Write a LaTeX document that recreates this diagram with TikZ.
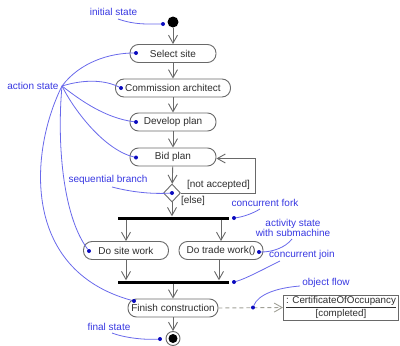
\documentclass[tikz,border=0pt]{standalone}
\usepackage{fontspec}
\setmainfont{Liberation Sans}
\usetikzlibrary{arrows.meta,shapes.geometric,calc}
\definecolor{lbl}{RGB}{55,55,225}
\definecolor{lnk}{RGB}{105,105,235}
\definecolor{dotc}{RGB}{10,10,190}
\definecolor{edgec}{RGB}{105,105,105}
\definecolor{txt}{RGB}{45,45,45}
\definecolor{dashc}{RGB}{160,160,150}
\begin{document}
\begin{tikzpicture}[x=1pt,y=-1pt,
  font=\fontsize{10}{11}\selectfont,
  act/.style={draw=edgec, line width=0.9pt, rounded corners=8.5pt, minimum height=18pt, inner sep=0pt, text=txt},
  flow/.style={draw=edgec, line width=0.9pt, -{Straight Barb[length=8pt,width=9pt]}},
  bar/.style={fill=black, inner sep=0pt, minimum height=3pt, minimum width=111pt},
  note/.style={text=lbl, inner sep=0pt},
  pointer/.style={draw=lnk, line width=0.8pt},
  pin/.style={circle, fill=dotc, inner sep=0pt, minimum size=4pt},
  guard/.style={text=txt, inner sep=0pt}]
\useasboundingbox (0,0) rectangle (400,346);

% activity nodes
\node[circle, fill=black, inner sep=0pt, minimum size=11pt] (init) at (173,22) {};
\node[act, minimum width=86pt] (sel) at (173,53.5) {Select site};
\node[act, minimum width=115pt] (com) at (173,88) {Commission architect};
\node[act, minimum width=86pt] (dev) at (173,122) {Develop plan};
\node[act, minimum width=86pt] (bid) at (173,157) {Bid plan};
\node[diamond, draw=edgec, line width=0.9pt, minimum width=17pt, minimum height=18pt, inner sep=0pt] (dia) at (172,193) {};
\node[bar] (fork) at (173.5,218) {};
\node[act, minimum width=85pt] (site) at (126,250.5) {Do site work};
\node[act, minimum width=84pt] (trade) at (221,250.5) {Do trade work()};
\node[bar] (join) at (173.5,282) {};
\node[act, minimum width=90pt] (finish) at (173,308) {Finish construction};
\node[circle, draw=edgec, line width=0.9pt, inner sep=0pt, minimum size=14pt] (final) at (173,338.5) {};
\node[circle, fill=black, inner sep=0pt, minimum size=9pt] (finalin) at (final) {};
\node[draw=edgec, line width=0.9pt, minimum width=115pt, minimum height=25pt, align=center, text=txt, inner sep=0pt, font=\fontsize{9.8}{10}\selectfont] (obj) at (341,307.5) {\underline{: CertificateOfOccupancy}\\{[completed]}};

% guards
\node[guard] (na) at (218.5,185) {[not accepted]};
\node[guard] (els) at (193,201) {[else]};

% control flow
\draw[flow] (init) -- (sel);
\draw[flow] (sel) -- (com);
\draw[flow] (com) -- (dev);
\draw[flow] (dev) -- (bid);
\draw[flow] (bid) -- (dia);
\draw[flow] (dia.south) -- (dia.south |- fork.north);
\coordinate (loopc) at (255,191);
\draw[flow] (dia.east) -- (dia.east -| loopc) |- ($(bid.east)+(0,1.5)$);
\draw[flow] (fork.south -| site.north) -- (site.north);
\draw[flow] (fork.south -| trade.north) -- (trade.north);
\draw[flow] (site.south) -- (site.south |- join.north);
\draw[flow] ($(trade.south)+(-2,0)$) -- ($(trade.south |- join.north)+(-2,0)$);
\draw[flow] (join.south -| finish.north) -- (finish.north);
\draw[flow] (finish) -- (final);
\draw[draw=dashc, line width=0.9pt, dash pattern=on 4pt off 3pt, -{Straight Barb[length=8pt,width=9pt]}] (finish.east) -- (obj.west);

% annotations
\node[note] (ninit) at (113.5,12) {initial state};
\node[note] (nact) at (33,86) {action state};
\node[note] (nseq) at (108,180) {sequential branch};
\node[note] (nfork) at (265,203) {concurrent fork};
\node[note, align=center, font=\fontsize{10}{10}\selectfont] (nsub) at (293,228) {activity state\\with submachine};
\node[note] (njoin) at (302,255) {concurrent join};
\node[note] (nobj) at (326,283) {object flow};
\node[note] (nfin) at (109,327) {final state};

\node[pin] (pinit) at (163,24) {};
\node[pin] (psel) at (136,53) {};
\node[pin] (pcom) at (121,88) {};
\node[pin] (pdev) at (136,122) {};
\node[pin] (pbid) at (136,157.5) {};
\node[pin] (pdia) at (172,193) {};
\node[pin] (pfork) at (234,218) {};
\node[pin] (psite) at (89,251) {};
\node[pin] (ptrade) at (259,252) {};
\node[pin] (pjoin) at (234,282) {};
\node[pin] (pfin) at (134,301) {};
\node[pin] (pobj) at (253,307.5) {};
\node[pin] (pfinal) at (160,339) {};

\coordinate (asrc) at (62,86);
\draw[pointer] (118,19) .. controls (135,25) and (148,24) .. (pinit);
\draw[pointer] (asrc) .. controls (80,62) and (110,53) .. (psel);
\draw[pointer] (asrc) .. controls (85,79) and (105,80) .. (pcom);
\draw[pointer] (asrc) .. controls (80,100) and (105,118) .. (pdev);
\draw[pointer] (asrc) .. controls (75,112) and (105,150) .. (pbid);
\draw[pointer] (asrc) .. controls (57,140) and (62,215) .. (psite);
\draw[pointer] (asrc) .. controls (30,150) and (20,270) .. (pfin);
\draw[pointer] (112,187) .. controls (135,193) and (155,194) .. (pdia);
\draw[pointer] (260,209) .. controls (252,214) and (242,217) .. (pfork);
\draw[pointer] (292,239) .. controls (285,248) and (272,252) .. (ptrade);
\draw[pointer] (280,261) .. controls (262,270) and (245,279) .. (pjoin);
\draw[pointer] (300,286) .. controls (275,288) and (258,295) .. (pobj);
\draw[pointer] (112,333) .. controls (125,338) and (145,340) .. (pfinal);
\end{tikzpicture}
\end{document}
